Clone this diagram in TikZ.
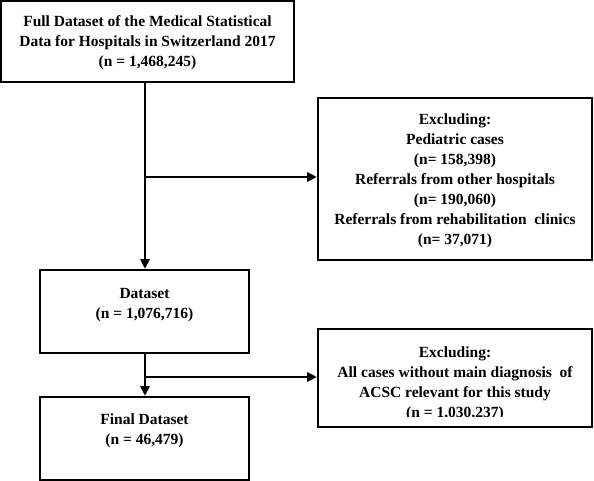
\documentclass[tikz,border=0pt]{standalone}
\usepackage{fontspec}
\setmainfont{Liberation Serif}
\usetikzlibrary{arrows.meta}
\begin{document}
\begin{tikzpicture}[x=1pt,y=-1pt,
  box/.style={draw=black,line width=2pt},
  txt/.style={align=center,font=\bfseries\fontsize{15.5}{20}\selectfont,inner sep=0pt},
  flow/.style={line width=2.6pt,-{Triangle[length=10pt,width=9pt]}}]
\useasboundingbox (0,0) rectangle (594,481);
\draw[box] (1,1) rectangle (294,82);
\node[txt] (full) at (147.5,43) {Full Dataset of the Medical Statistical\\Data for Hospitals in Switzerland 2017\\(n = 1,468,245)};
\draw[box] (318,98) rectangle (592,260);
\node[txt] (ex1) at (455,181) {Excluding:\\Pediatric cases\\(n= 158,398)\\Referrals from other hospitals\\(n= 190,060)\\Referrals from rehabilitation\ \ clinics\\(n= 37,071)};
\draw[box] (40,270) rectangle (249,353);
\node[txt] (ds) at (144.5,305.5) {Dataset\\(n = 1,076,716)};
\draw[box] (318,329) rectangle (592,427);
\begin{scope}
\clip (318,329) rectangle (592,416.5);
\node[txt] (ex2) at (455,384) {Excluding:\\All cases without main diagnosis\ \ of\\ACSC relevant for this study\\(n = 1,030,237)};
\end{scope}
\draw[box] (40,397) rectangle (249,480);
\node[txt] (fin) at (144.5,431) {Final Dataset\\(n = 46,479)};
\coordinate (a1) at (145,83);
\coordinate (a2) at (145,269);
\coordinate (b1) at (145,177);
\coordinate (b2) at (317,177);
\coordinate (c1) at (145,354);
\coordinate (c2) at (145,396);
\coordinate (d1) at (145,377);
\coordinate (d2) at (317,377);
\draw[flow] (a1) -- (a2);
\draw[flow] (b1) -- (b2);
\draw[flow] (c1) -- (c2);
\draw[flow] (d1) -- (d2);
\end{tikzpicture}
\end{document}
